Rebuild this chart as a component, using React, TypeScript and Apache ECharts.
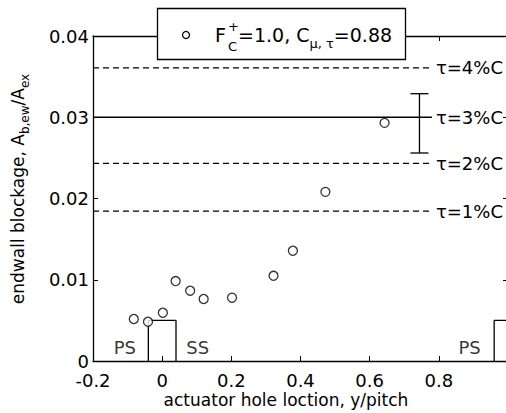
import React, { useEffect, useRef } from 'react';
import * as echarts from 'echarts';

// measured data points (actuator hole location, endwall blockage)
const positions = [-0.082, -0.041, 0.002, 0.039, 0.081, 0.12, 0.202, 0.322, 0.378, 0.472, 0.643];
const blockage = [0.00517, 0.00483, 0.00594, 0.00984, 0.00865, 0.00763, 0.00779, 0.01049, 0.01357, 0.02082, 0.02931];

// reference levels for tip clearance
const tauLevels = [0.01845, 0.02432, 0.03, 0.03608];
const tauLabels = ['τ=1%C', 'τ=2%C', 'τ=3%C', 'τ=4%C'];
const tauSolid = [false, false, true, false];
const tauLineStart = -0.2;
const tauLineEnd = 0.78;

// uncertainty bar
const errX = [0.744];
const errLow = [0.0256];
const errHigh = [0.0329];

// blade outlines
const bladeLeft = [-0.04, 0.96];
const bladeRight = [0.04, 1.04];
const bladeHeight = 0.005;

// pressure / suction side labels
const sideLabels = ['PS', 'SS', 'PS'];
const sideX = [-0.108, 0.103, 0.889];
const sideY = [0.00166, 0.00166, 0.00166];

const FONT = 'DejaVu Sans';

export default function App() {
  const ref = useRef<HTMLDivElement>(null);
  useEffect(() => {
    const chart = echarts.init(ref.current!, null, { renderer: 'svg' });
    const series: any[] = [];

    tauLevels.forEach((v, i) => {
      series.push({
        type: 'line',
        data: [[tauLineStart, v], [tauLineEnd, v]],
        showSymbol: false,
        symbol: 'none',
        lineStyle: { color: '#000', width: 1.3, type: tauSolid[i] ? 'solid' : [6, 4] },
        endLabel: {
          show: true,
          formatter: tauLabels[i],
          distance: 4,
          color: '#000',
          fontFamily: FONT,
          fontSize: 18,
        },
        silent: true,
        z: 3,
      });
    });

    bladeLeft.forEach((l, i) => {
      const r = bladeRight[i];
      series.push({
        type: 'line',
        data: [[l, 0], [l, bladeHeight], [r, bladeHeight], [r, 0]],
        showSymbol: false,
        symbol: 'none',
        lineStyle: { color: '#000', width: 1.3 },
        silent: true,
        z: 3,
      });
    });

    series.push({
      type: 'scatter',
      data: sideX.map((x, i) => ({
        value: [x, sideY[i]],
        label: { show: true, formatter: sideLabels[i] },
      })),
      symbol: 'rect',
      symbolSize: 1,
      itemStyle: { color: 'rgba(0,0,0,0)' },
      label: { position: 'inside', color: '#000', fontFamily: FONT, fontSize: 18 },
      silent: true,
      z: 4,
    });

    series.push({
      type: 'custom',
      data: errX.map((x, i) => [x, errLow[i], errHigh[i]]),
      renderItem: (params: any, api: any) => {
        const x = api.value(0);
        const pLo = api.coord([x, api.value(1)]);
        const pHi = api.coord([x, api.value(2)]);
        const half = 9;
        const st = { stroke: '#000', lineWidth: 1.3 };
        return {
          type: 'group',
          children: [
            { type: 'line', shape: { x1: pHi[0], y1: pHi[1], x2: pLo[0], y2: pLo[1] }, style: st },
            { type: 'line', shape: { x1: pHi[0] - half, y1: pHi[1], x2: pHi[0] + half, y2: pHi[1] }, style: st },
            { type: 'line', shape: { x1: pLo[0] - half, y1: pLo[1], x2: pLo[0] + half, y2: pLo[1] }, style: st },
          ],
        };
      },
      silent: true,
      z: 5,
    });

    series.push({
      type: 'scatter',
      data: positions.map((x, i) => [x, blockage[i]]),
      symbol: 'circle',
      symbolSize: 9,
      itemStyle: { color: '#fff', borderColor: '#000', borderWidth: 1.3 },
      silent: true,
      z: 10,
    });

    const axisLine = { show: true, onZero: false, lineStyle: { color: '#000', width: 1.3 } };
    const axisTick = { show: true, inside: true, length: 5, lineStyle: { color: '#000', width: 1 } };
    const labelStyle = { color: '#000', fontFamily: FONT, fontSize: 18, lineHeight: 16 };

    chart.setOption({
      animation: false,
      backgroundColor: '#fff',
      grid: { left: 93, top: 36, width: 415, height: 325, show: false, outerBoundsMode: 'none', containLabel: false },
      xAxis: [
        {
          type: 'value', min: -0.2, max: 1.0, interval: 0.2, position: 'bottom',
          axisLine, axisTick, splitLine: { show: false },
          axisLabel: {
            ...labelStyle, margin: 11, showMaxLabel: false,
            formatter: (v: number) => String(Number(v.toFixed(1))),
          },
        },
        {
          type: 'value', min: -0.2, max: 1.0, interval: 0.2, position: 'top',
          axisLine, axisTick, splitLine: { show: false }, axisLabel: { show: false },
        },
      ],
      yAxis: [
        {
          type: 'value', min: 0, max: 0.04, interval: 0.01, position: 'left',
          axisLine, axisTick, splitLine: { show: false },
          axisLabel: { ...labelStyle, margin: 4, formatter: (v: number) => (v === 0 ? '0' : v.toFixed(2)) },
        },
        {
          type: 'value', min: 0, max: 0.04, interval: 0.01, position: 'right',
          axisLine, axisTick, splitLine: { show: false }, axisLabel: { show: false },
        },
      ],
      series,
      graphic: [
        {
          type: 'text', x: 286, y: 400, z: 50,
          style: {
            text: 'actuator hole loction, y/pitch', fontFamily: FONT, fontSize: 17, fill: '#000',
            textAlign: 'center', textVerticalAlign: 'middle',
          },
        },
        {
          type: 'text', x: 18, y: 189, rotation: Math.PI / 2, z: 50,
          style: {
            text: 'endwall blockage, A{sub|b,ew}/A{sub|ex}',
            fontFamily: FONT, fontSize: 17, fill: '#000',
            textAlign: 'center', textVerticalAlign: 'middle',
            rich: {
              sub: { fontFamily: FONT, fontSize: 12, verticalAlign: 'bottom', lineHeight: 12 },
            },
            lineHeight: 26,
          },
        },
        {
          type: 'group', z: 100,
          children: [
            {
              type: 'rect', z: 100,
              shape: { x: 157.5, y: 8.5, width: 248, height: 51 },
              style: { fill: '#fff', stroke: '#000', lineWidth: 1.3 },
            },
            {
              type: 'circle', z: 101,
              shape: { cx: 186, cy: 35, r: 3.5 },
              style: { fill: '#fff', stroke: '#000', lineWidth: 1.3 },
            },
            {
              type: 'text', x: 215, y: 35, z: 101,
              style: { text: 'F', fontFamily: FONT, fontSize: 19, fill: '#000', textVerticalAlign: 'middle' },
            },
            {
              type: 'text', x: 228, y: 26, z: 101,
              style: { text: '+', fontFamily: FONT, fontSize: 13, fill: '#000', textVerticalAlign: 'middle' },
            },
            {
              type: 'text', x: 228, y: 46, z: 101,
              style: { text: 'C', fontFamily: FONT, fontSize: 13, fill: '#000', textVerticalAlign: 'middle' },
            },
            {
              type: 'text', x: 238, y: 35, z: 101,
              style: {
                text: '=1.0, C{sub|μ, τ}=0.88',
                fontFamily: FONT, fontSize: 19, fill: '#000', textVerticalAlign: 'middle',
                lineHeight: 30,
                rich: { sub: { fontFamily: FONT, fontSize: 13, verticalAlign: 'bottom', lineHeight: 13 } },
              },
            },
          ],
        },
      ],
    });
    return () => chart.dispose();
  }, []);
  return (
    <div
      ref={ref}
      style={{ position: 'fixed', left: 0, top: 0, width: 506, height: 413, background: '#fff' }}
    />
  );
}
